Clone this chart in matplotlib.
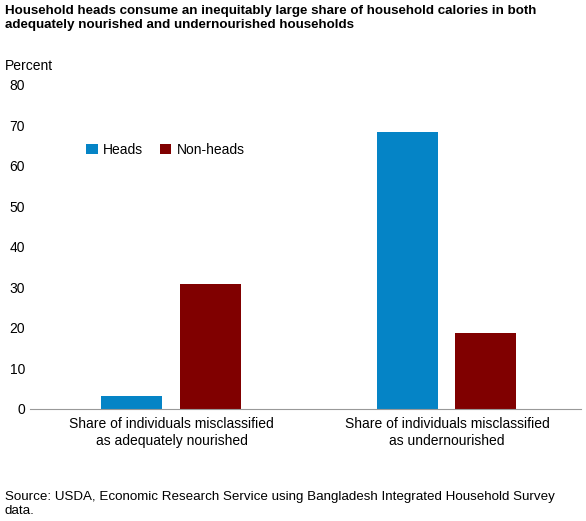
import numpy as np
import matplotlib
matplotlib.use('Agg')
import matplotlib.pyplot as plt

categories = ["Share of individuals misclassified\nas adequately nourished",
              "Share of individuals misclassified\nas undernourished"]
heads = [3.2, 68.4]
non_heads = [30.8, 18.8]

plt.rcParams['font.family'] = ['Liberation Sans', 'DejaVu Sans']

fig = plt.figure(figsize=(5.86, 5.21), dpi=100)
ax = fig.add_axes([0.051, 0.215, 0.94, 0.622])

x = np.arange(len(categories))
w = 0.22
ax.bar(x - 0.13, heads, w, color='#0584c6', label='Heads')
ax.bar(x + 0.155, non_heads, w, color='#800000', label='Non-heads')

ax.set_xlim(-0.5, 1.5)
ax.set_ylim(0, 80)
ax.set_yticks(range(0, 81, 10))
ax.set_xticks(x + 0.015)
ax.set_xticklabels(categories, fontsize=10)
ax.tick_params(axis='y', length=0, labelsize=10)
ax.tick_params(axis='x', length=0, pad=6)
for s in ['top', 'right', 'left']:
    ax.spines[s].set_visible(False)
ax.spines['bottom'].set_color('#999999')

ax.legend(loc='upper left', bbox_to_anchor=(0.08, 0.86), ncol=2, frameon=False,
          fontsize=10, handlelength=0.8, handleheight=0.8, columnspacing=1.2, handletextpad=0.4)

fig.text(0.008, 0.99, "Household heads consume an inequitably large share of household calories in both\nadequately nourished and undernourished households",
         fontsize=9.6, fontweight='bold', va='top')
fig.text(0.008, 0.865, "Percent", fontsize=10)
fig.text(0.008, 0.008, "Source: USDA, Economic Research Service using Bangladesh Integrated Household Survey\ndata.",
         fontsize=9.6, va='bottom')

fig.savefig('out.png', dpi=100)
